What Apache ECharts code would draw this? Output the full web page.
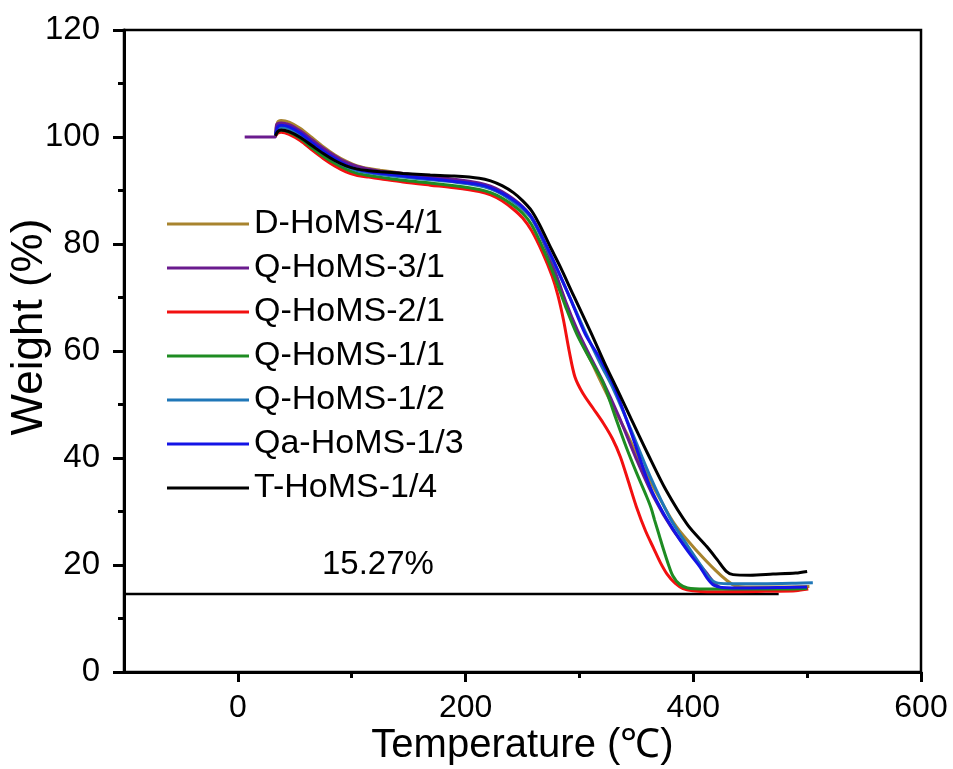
<!doctype html>
<html lang="en">
<head>
    <meta charset="UTF-8">
    <title>TGA</title>
    <style>
        * {
            margin: 0;
            padding: 0;
        }
        body {
            background: #fff;
        }
        #main {
            width: 953px;
            height: 769px;
        }
    </style>
</head>
<body>
<div id="main"></div>
<script src="https://cdn.jsdelivr.net/npm/echarts@6/dist/echarts.min.js"></script>
<script>
    // [temperature, weight%]
    var dHoms41 = [[33,100.6],[35,102.8],[38,103.1],[45,102.8],[55,101.6],[65,99.9],[75,98.2],[85,96.7],[95,95.5],[105,94.6],[115,94.1],[125,93.8],[145,93.2],[169,92.4],[190,91.8],[212,91.0],[222,90.4],[232,89.4],[242,87.9],[250,86.6],
        [258,84.8],[265,82.2],[272,78.8],[280,73.8],[290,67.6],[300,62.4],[310,58.2],[318,54.6],[330,49.4],[342,44.4],[355,38.6],[368,33.4],[385,27.2],[405,22.2],[420,18.9],[429,17.2],[437,16.1],[450,15.9],[475,15.9],[502,16.0]];
    var qHoms31 = [[6,100],[33,100],[34,102.3],[38,102.6],[45,102.3],[55,101.1],[65,99.5],[75,97.9],[85,96.5],[95,95.3],[105,94.5],[115,94.0],[125,93.6],[145,93.2],[169,92.6],[190,92.1],[212,91.4],[222,90.8],[232,89.8],[242,88.4],[250,87.0],
        [258,85.0],[268,80.6],[278,75.2],[288,69.2],[298,64.0],[308,59.6],[320,54.6],[335,47.6],[350,39.8],[365,32.8],[382,26.6],[400,21.6],[412,18.4],[420,16.3],[426,15.6],[440,15.4],[470,15.4],[500,15.6]];
    var qHoms21 = [[33,100.2],[35,100.7],[38,100.9],[45,100.5],[55,99.3],[65,97.6],[75,96.0],[85,94.6],[95,93.5],[105,92.8],[115,92.5],[125,92.2],[145,91.6],[169,91.0],[190,90.5],[212,89.8],[222,89.2],[232,88.1],[242,86.5],[250,84.9],
        [258,82.5],[268,78.2],[276,74.0],[281,70.5],[286,65.8],[291,60.0],[296,55.2],[303,52.1],[312,49.3],[321,46.5],[329,43.6],[336,40.2],[343,35.6],[350,30.9],[358,26.4],[365,23.2],[371,20.5],[377,18.3],[384,16.6],[391,15.6],[400,15.2],[412,15.0],[440,15.0],[470,15.1],[490,15.2],[501,15.5]];
    var qHoms11 = [[33,100.3],[35,101.0],[38,101.3],[45,100.9],[55,99.7],[65,98.0],[75,96.4],[85,95.1],[95,94.0],[105,93.2],[115,92.8],[125,92.5],[145,91.9],[169,91.4],[190,90.9],[212,90.2],[222,89.6],[232,88.6],[242,87.2],[250,85.8],
        [258,83.6],[268,79.2],[278,74.0],[288,68.2],[298,63.0],[310,58.2],[321,54.0],[331,48.0],[341,42.1],[350,37.3],[359,32.8],[363,30.6],[366,28.4],[370,25.6],[374,22.8],[378,20.2],[382,18.0],[388,16.4],[395,15.7],[410,15.5],[450,15.5],[480,15.5],[500,15.6]];
    var qHoms12 = [[33,100.3],[35,101.5],[38,101.8],[45,101.5],[55,100.3],[65,98.6],[75,97.0],[85,95.6],[95,94.5],[105,93.7],[115,93.3],[125,93.0],[145,92.5],[169,92.0],[190,91.6],[212,90.9],[222,90.3],[232,89.3],[242,87.9],[250,86.6],
        [258,84.8],[268,80.8],[280,75.4],[292,69.8],[305,63.6],[318,57.8],[330,52.8],[345,45.4],[362,36.6],[380,28.6],[395,23.6],[407,19.8],[414,17.6],[420,16.7],[430,16.5],[460,16.5],[490,16.6],[505,16.7]];
    var qaHoms13 = [[33,100.4],[35,101.9],[38,102.2],[45,101.9],[55,100.7],[65,99.0],[75,97.4],[85,96.0],[95,94.8],[105,94.0],[115,93.5],[125,93.2],[145,92.7],[169,92.2],[190,91.7],[212,91.1],[222,90.5],[232,89.5],[242,88.2],[250,86.9],
        [258,85.0],[268,81.0],[280,75.6],[292,69.8],[305,63.2],[318,58.6],[330,53.6],[345,45.0],[362,34.6],[375,29.2],[388,24.8],[398,21.8],[406,19.6],[412,17.6],[418,16.2],[425,15.8],[450,15.7],[480,15.8],[500,15.9]];
    var tHoms14 = [[33,100.2],[35,101.0],[38,101.3],[45,101.0],[55,99.9],[65,98.4],[75,96.9],[85,95.6],[95,94.6],[105,94.0],[115,93.7],[125,93.5],[145,93.2],[169,92.9],[190,92.7],[212,92.3],[222,91.8],[232,90.9],[242,89.6],[250,88.1],
        [258,86.2],[265,83.6],[275,79.2],[283,75.8],[295,70.3],[310,63.5],[322,57.8],[333,52.9],[345,47.5],[360,40.8],[376,34.0],[395,27.5],[412,23.4],[421,21.0],[429,18.8],[435,18.2],[450,18.1],[470,18.3],[490,18.5],[500,18.8]];

    var names = ['D-HoMS-4/1', 'Q-HoMS-3/1', 'Q-HoMS-2/1', 'Q-HoMS-1/1', 'Q-HoMS-1/2', 'Qa-HoMS-1/3', 'T-HoMS-1/4'];
    var colors = ['#A8842E', '#6A1B8E', '#F21010', '#1E8C22', '#1F77B8', '#1414E6', '#000000'];
    var curves = [dHoms41, qHoms31, qHoms21, qHoms11, qHoms12, qaHoms13, tHoms14];
    // residue line and its label
    var residueLine = [[-100, 14.6], [475, 14.6]];
    var residueText = '15.27%';
    var residueLabelAt = [123, 20];

    var xMajor = [0, 200, 400, 600];
    var xMinor = [100, 300, 500];

    // draw black first, gold last
    var drawOrder = [6, 4, 5, 3, 1, 2, 0];
    var series = [];
    drawOrder.forEach(function (i) {
        series.push({
            name: names[i],
            type: 'line',
            data: curves[i],
            showSymbol: false,
            smooth: 0.3,
            color: colors[i],
            lineStyle: {width: 3, color: colors[i]},
            z: 3 + i
        });
    });
    series.push({
        type: 'line',
        data: residueLine,
        showSymbol: false,
        lineStyle: {width: 2.5, color: '#000'},
        silent: true
    });
    series.push({
        type: 'scatter',
        data: [residueLabelAt],
        symbolSize: 0,
        itemStyle: {opacity: 1},
        label: {
            show: true,
            position: 'inside',
            formatter: residueText,
            color: '#000',
            fontSize: 33,
            fontFamily: 'Liberation Sans'
        },
        silent: true
    });

    var font = 'Liberation Sans';
    var myChart = echarts.init(document.getElementById('main'));
    var option = {
        animation: false,
        backgroundColor: '#fff',
        grid: {
            left: 124, right: 32, top: 30, bottom: 97,
            containLabel: false,
            outerBoundsMode: 'none',
            show: true, borderColor: '#000', borderWidth: 2.5
        },
        legend: {
            data: names,
            orient: 'vertical',
            left: 162,
            top: 197,
            itemWidth: 82,
            itemHeight: 3,
            itemGap: 0,
            icon: 'rect',
            textStyle: {
                fontSize: 34,
                fontFamily: font,
                color: '#000',
                lineHeight: 44
            }
        },
        xAxis: [{
            type: 'value',
            min: -100,
            max: 600,
            position: 'bottom',
            name: 'Temperature (℃)',
            nameLocation: 'middle',
            nameGap: 54,
            nameMoveOverlap: false,
            nameTextStyle: {fontSize: 40, fontFamily: font, color: '#000'},
            axisLine: {onZero: false, lineStyle: {color: '#000', width: 3}},
            axisTick: {customValues: xMajor, length: 10, lineStyle: {color: '#000', width: 3}},
            axisLabel: {customValues: xMajor, fontSize: 32, fontFamily: font, color: '#000', margin: 20},
            splitLine: {show: false}
        }, {
            type: 'value',
            min: -100,
            max: 600,
            position: 'bottom',
            axisLine: {show: false, onZero: false},
            axisTick: {customValues: xMinor, length: 6, lineStyle: {color: '#000', width: 3}},
            axisLabel: {show: false},
            splitLine: {show: false}
        }],
        yAxis: {
            type: 'value',
            min: 0,
            max: 120,
            interval: 20,
            name: 'Weight (%)',
            nameLocation: 'middle',
            nameGap: 72,
            nameMoveOverlap: false,
            nameTextStyle: {fontSize: 44, fontFamily: font, color: '#000', padding: [0, 0, 0, 48]},
            axisLine: {onZero: false, lineStyle: {color: '#000', width: 3}},
            axisTick: {length: 11, lineStyle: {color: '#000', width: 3}},
            minorTick: {show: true, splitNumber: 2, length: 6, lineStyle: {color: '#000', width: 3}},
            axisLabel: {fontSize: 33, fontFamily: font, color: '#000', margin: 24},
            splitLine: {show: false}
        },
        series: series
    };
    myChart.setOption(option);
</script>
</body>
</html>
